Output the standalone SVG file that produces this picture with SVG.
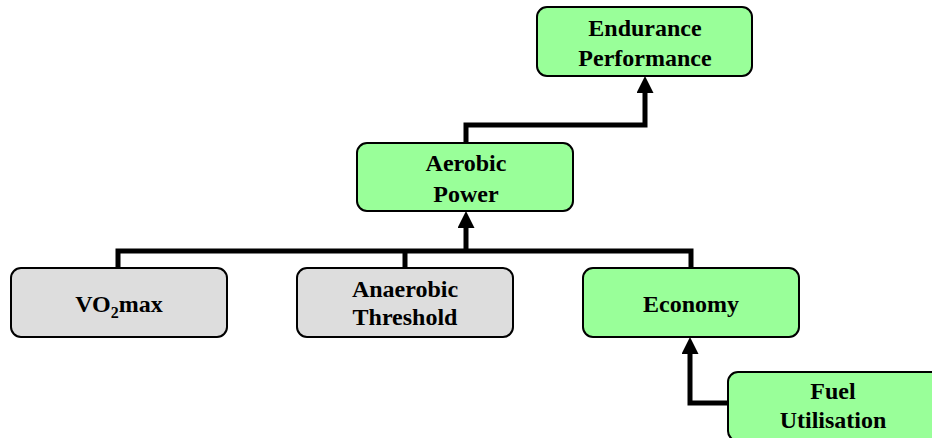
<svg xmlns="http://www.w3.org/2000/svg" width="932" height="438" viewBox="0 0 932 438">
<style>
.box{stroke:#000;stroke-width:2}
.g{fill:#99FF99}
.s{fill:#DDDDDD}
text{font-family:'Liberation Serif','DejaVu Serif',serif;font-weight:bold;font-size:24px;text-anchor:middle;fill:#000}
.c{fill:none;stroke:#000;stroke-width:5;stroke-linejoin:miter}
</style>
<defs>
<marker id="ah" markerUnits="userSpaceOnUse" markerWidth="17" markerHeight="17" viewBox="0 0 17 17" refX="0" refY="8.5" orient="auto">
<path d="M0,0 L17,8.5 L0,17 z" fill="#000"/>
</marker>
</defs>
<rect width="932" height="438" fill="#fff"/>
<g id="connectors">
<path class="c" d="M466,143 V125 H645 V93" marker-end="url(#ah)"/>
<path class="c" d="M118,268 V251 H691 V268"/>
<path class="c" d="M405,268 V251"/>
<path class="c" d="M466,251 V228" marker-end="url(#ah)"/>
<path class="c" d="M728,403 H690 V354" marker-end="url(#ah)"/>
</g>
<g id="endurance">
<rect class="box g" x="537" y="7" width="215" height="69" rx="10"/>
<text x="645" y="36">Endurance</text>
<text x="645" y="66">Performance</text>
</g>
<g id="aerobic">
<rect class="box g" x="357" y="143" width="216" height="68" rx="10"/>
<text x="466" y="171">Aerobic</text>
<text x="466" y="202">Power</text>
</g>
<g id="vo2max">
<rect class="box s" x="11" y="268" width="216" height="69" rx="10"/>
<text x="119" y="312">VO<tspan font-size="16" dy="6">2</tspan><tspan dy="-6">max</tspan></text>
</g>
<g id="anaerobic">
<rect class="box s" x="297" y="268" width="216" height="69" rx="10"/>
<text x="405" y="297">Anaerobic</text>
<text x="405" y="325">Threshold</text>
</g>
<g id="economy">
<rect class="box g" x="583" y="268" width="216" height="69" rx="10"/>
<text x="691" y="312">Economy</text>
</g>
<g id="fuel">
<rect class="box g" x="728" y="372" width="216" height="69" rx="10"/>
<text x="833" y="399">Fuel</text>
<text x="833" y="428">Utilisation</text>
</g>
</svg>
